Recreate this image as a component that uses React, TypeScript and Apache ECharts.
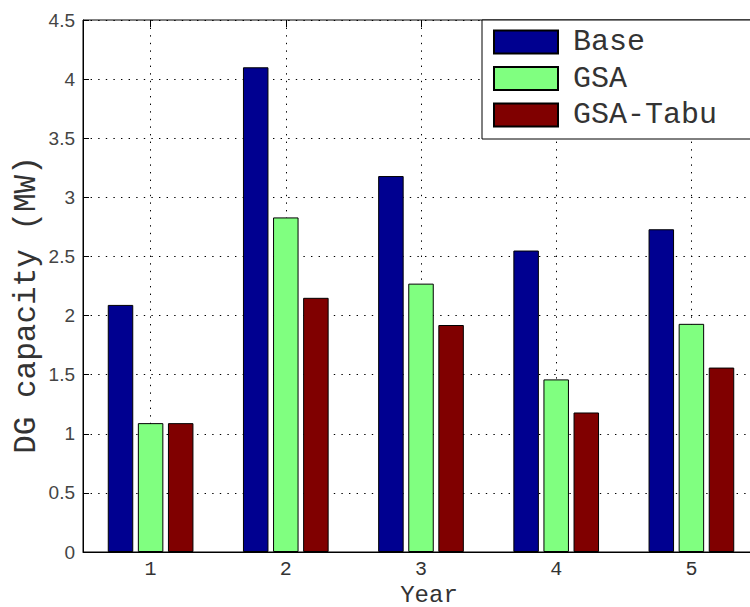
import React, { useEffect, useRef } from "react";
import * as echarts from "echarts";

// Installed DG capacity per planning year, in MW
const years = ["1", "2", "3", "4", "5"];
const baseMW = [2.09, 4.1, 3.18, 2.55, 2.73];
const gsaMW = [1.09, 2.83, 2.27, 1.46, 1.93];
const gsaTabuMW = [1.09, 2.15, 1.92, 1.18, 1.56];

const seriesNames = ["Base", "GSA", "GSA-Tabu"];
const seriesColors = ["#000090", "#80ff80", "#800000"];

// Half-step positions used only to place the vertical dotted grid at each year
const halfSteps = ["0.5", "1", "1.5", "2", "2.5", "3", "3.5", "4", "4.5", "5", "5.5"];

const mono = "'Courier New', 'Liberation Mono', monospace";
const sans = "'Liberation Sans', Arial, sans-serif";
const dotted = { color: "#000", width: 1, type: [1.4, 6.2] as number[] };

export default function App() {
  const ref = useRef<HTMLDivElement>(null);

  useEffect(() => {
    document.body.style.margin = "0";
    if (!ref.current) return;
    const chart = echarts.init(ref.current, undefined, { renderer: "svg" });

    const values = [baseMW, gsaMW, gsaTabuMW];

    chart.setOption({
      animation: false,
      backgroundColor: "#fff",
      grid: {
        left: 83,
        top: 20,
        width: 676,
        height: 532,
        outerBoundsMode: "none",
        containLabel: false,
        show: true,
        borderColor: "#000",
        borderWidth: 1,
        backgroundColor: "transparent",
      },
      legend: {
        orient: "vertical",
        left: 482,
        top: 20,
        padding: [7, 60, 9, 11],
        itemWidth: 64,
        itemHeight: 23,
        itemGap: 6.5,
        icon: "rect",
        backgroundColor: "#fff",
        borderColor: "#000",
        borderWidth: 1,
        borderRadius: 0,
        textStyle: {
          fontFamily: mono,
          fontSize: 30,
          color: "#333",
          lineHeight: 23,
          padding: [0, 0, 0, 10],
        },
        data: seriesNames,
      },
      xAxis: [
        {
          type: "category",
          data: years,
          boundaryGap: true,
          axisLine: { show: true, lineStyle: { color: "#000", width: 1 } },
          axisTick: { show: true, inside: true, alignWithLabel: true, length: 7, lineStyle: { color: "#000" } },
          axisLabel: {
            fontFamily: mono,
            fontSize: 20,
            color: "#333",
            margin: 9,
            lineHeight: 16,
          },
          splitLine: { show: false },
        },
        {
          type: "category",
          data: halfSteps,
          position: "top",
          boundaryGap: false,
          axisLine: { show: false },
          axisLabel: { show: false },
          axisTick: {
            show: true,
            inside: true,
            length: 7,
            interval: (i: number) => i % 2 === 1,
            lineStyle: { color: "#000" },
          },
          splitLine: {
            show: true,
            interval: (i: number) => i % 2 === 1,
            lineStyle: dotted,
          },
        },
      ],
      yAxis: {
        type: "value",
        min: 0,
        max: 4.5,
        interval: 0.5,
        axisLine: { show: true, lineStyle: { color: "#000", width: 1 } },
        axisTick: { show: true, inside: true, length: 6, lineStyle: { color: "#000" } },
        axisLabel: { fontFamily: sans, fontSize: 19, color: "#444", margin: 8 },
        splitLine: { show: true, lineStyle: dotted },
      },
      graphic: [
        {
          type: "text",
          x: 26,
          y: 305,
          rotation: Math.PI / 2,
          style: {
            text: "DG capacity (MW)",
            font: `31px ${mono}`,
            fill: "#333",
            textAlign: "center",
            textVerticalAlign: "middle",
          },
        },
        {
          type: "text",
          x: 429,
          y: 595,
          style: {
            text: "Year",
            font: `24px ${mono}`,
            lineHeight: 22,
            fill: "#333",
            textAlign: "center",
            textVerticalAlign: "middle",
          },
        },
      ],
      series: seriesNames.map((name, k) => ({
        name,
        type: "bar",
        xAxisIndex: 0,
        data: values[k],
        barWidth: 25.5,
        barGap: "18%",
        itemStyle: { color: seriesColors[k], borderColor: "#000", borderWidth: 1 },
      })),
    });

    return () => chart.dispose();
  }, []);

  return <div ref={ref} style={{ width: 750, height: 607 }} />;
}
